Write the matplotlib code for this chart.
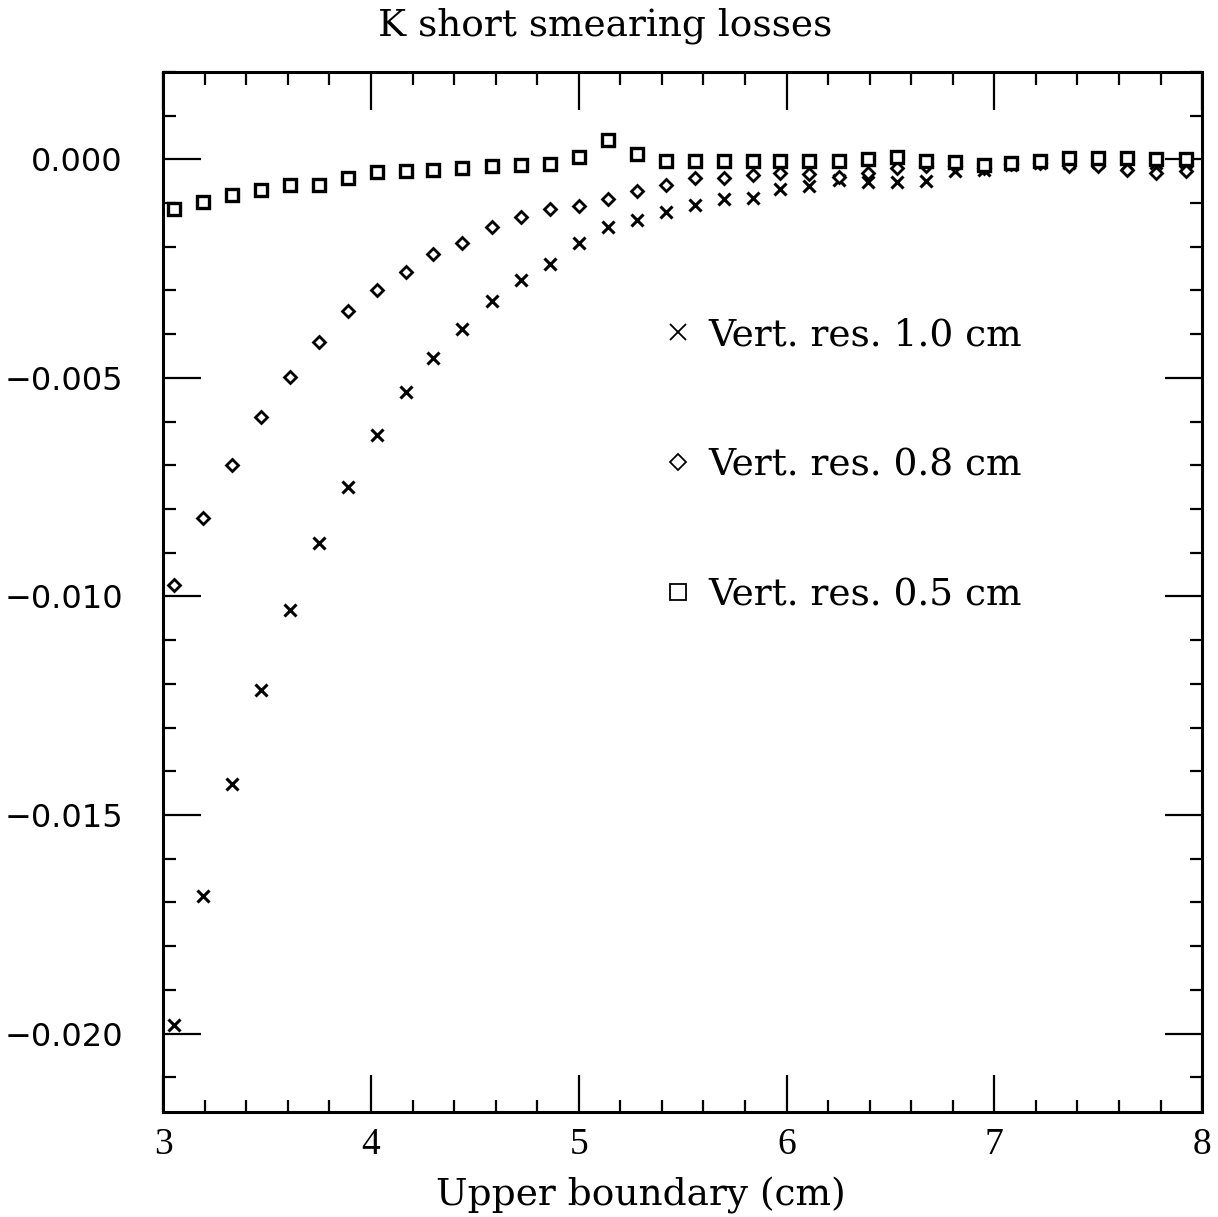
import matplotlib
matplotlib.use("Agg")
import matplotlib.pyplot as plt
from matplotlib.lines import Line2D
from matplotlib.ticker import MultipleLocator, FuncFormatter

# Upper boundary values (cm)
upper_boundary = [3.05, 3.19, 3.33, 3.47, 3.61, 3.75, 3.89, 4.03, 4.17, 4.30,
                  4.44, 4.58, 4.72, 4.86, 5.00, 5.14, 5.28, 5.42, 5.56, 5.70,
                  5.84, 5.97, 6.11, 6.25, 6.39, 6.53, 6.67, 6.81, 6.95, 7.08,
                  7.22, 7.36, 7.50, 7.64, 7.78, 7.92]

# Losses for the three vertex resolutions
loss_res_10 = [-0.01981, -0.01685, -0.01429, -0.01215, -0.01030, -0.00878,
               -0.00749, -0.00630, -0.00533, -0.00454, -0.00389, -0.00324,
               -0.00276, -0.00239, -0.00192, -0.00155, -0.00139, -0.00120,
               -0.00104, -0.00091, -0.00089, -0.00069, -0.00061, -0.00047,
               -0.00051, -0.00051, -0.00050, -0.00027, -0.00024, -0.00013,
               -0.00008, -0.00008, -0.00006, -0.00011, -0.00008, -0.00006]

loss_res_08 = [-0.00973, -0.00821, -0.00699, -0.00589, -0.00498, -0.00419,
               -0.00346, -0.00299, -0.00257, -0.00216, -0.00191, -0.00156,
               -0.00133, -0.00114, -0.00106, -0.00091, -0.00072, -0.00060,
               -0.00042, -0.00042, -0.00037, -0.00031, -0.00034, -0.00040,
               -0.00031, -0.00021, -0.00015, -0.00015, -0.00020, -0.00010,
               -0.00008, -0.00015, -0.00015, -0.00024, -0.00031, -0.00028]

loss_res_05 = [-0.00114, -0.00097, -0.00082, -0.00070, -0.00060, -0.00060,
               -0.00042, -0.00029, -0.00028, -0.00024, -0.00019, -0.00016,
               -0.00013, -0.00010, 0.00005, 0.00044, 0.00011, -0.00004,
               -0.00005, -0.00005, -0.00004, -0.00005, -0.00005, -0.00004,
               0.00000, 0.00006, -0.00005, -0.00006, -0.00013, -0.00008,
               -0.00004, 0.00002, 0.00003, 0.00003, 0.00000, 0.00000]

labels = ["Vert. res. 1.0 cm", "Vert. res. 0.8 cm", "Vert. res. 0.5 cm"]

fig = plt.figure(figsize=(12.18, 12.17), dpi=100)
ax = fig.add_axes([0.134, 0.086, 0.853, 0.855])

ax.plot(upper_boundary, loss_res_10, ls="none", marker="x", ms=8, mew=2.2, color="k")
ax.plot(upper_boundary, loss_res_08, ls="none", marker="D", ms=6.5, mew=2.0,
        mfc="white", mec="k")
ax.plot(upper_boundary, loss_res_05, ls="none", marker="s", ms=8, mew=2.4,
        mfc="white", mec="k")

ax.set_xlim(3, 8)
ax.set_ylim(-0.0218, 0.0020)

ax.xaxis.set_major_locator(MultipleLocator(1))
ax.xaxis.set_minor_locator(MultipleLocator(0.2))
ax.yaxis.set_major_locator(MultipleLocator(0.005))
ax.yaxis.set_minor_locator(MultipleLocator(0.001))
ax.yaxis.set_major_formatter(FuncFormatter(lambda v, p: f"{v:.3f}".replace("-", "\u2212")))

ax.tick_params(which="both", direction="in", top=True, right=True, color="k")
ax.tick_params(which="major", length=27, width=1.6)
ax.tick_params(which="minor", length=9, width=1.6)
ax.tick_params(axis="y", which="major", pad=29, labelsize=23)
ax.tick_params(axis="x", which="major", pad=11, labelsize=27)
for lab in ax.get_xticklabels():
    lab.set_family("Liberation Serif")
for lab in ax.get_yticklabels():
    lab.set_family("DejaVu Sans")

for sp in ax.spines.values():
    sp.set_linewidth(2.2)

# key entries drawn with thin markers like the original
handles = [Line2D([], [], ls="none", marker="x", ms=12, mew=1.3, color="k"),
           Line2D([], [], ls="none", marker="D", ms=8, mew=1.3, mfc="white", mec="k"),
           Line2D([], [], ls="none", marker="s", ms=11, mew=1.3, mfc="white", mec="k")]
ax.legend(handles, labels, loc="upper left", bbox_to_anchor=(0.4775, 0.764),
          frameon=False, borderpad=0, borderaxespad=0, handlelength=1.0,
          handletextpad=0.30, labelspacing=2.51,
          prop={"family": "DejaVu Serif", "size": 27})

fig.text(0.497, 0.979, "K short smearing losses", ha="center", va="center",
         family="DejaVu Serif", fontsize=27)
fig.text(0.526, 0.018, "Upper boundary (cm)", ha="center", va="center",
         family="DejaVu Serif", fontsize=27)

fig.savefig("out.png", dpi=100, facecolor="white")
